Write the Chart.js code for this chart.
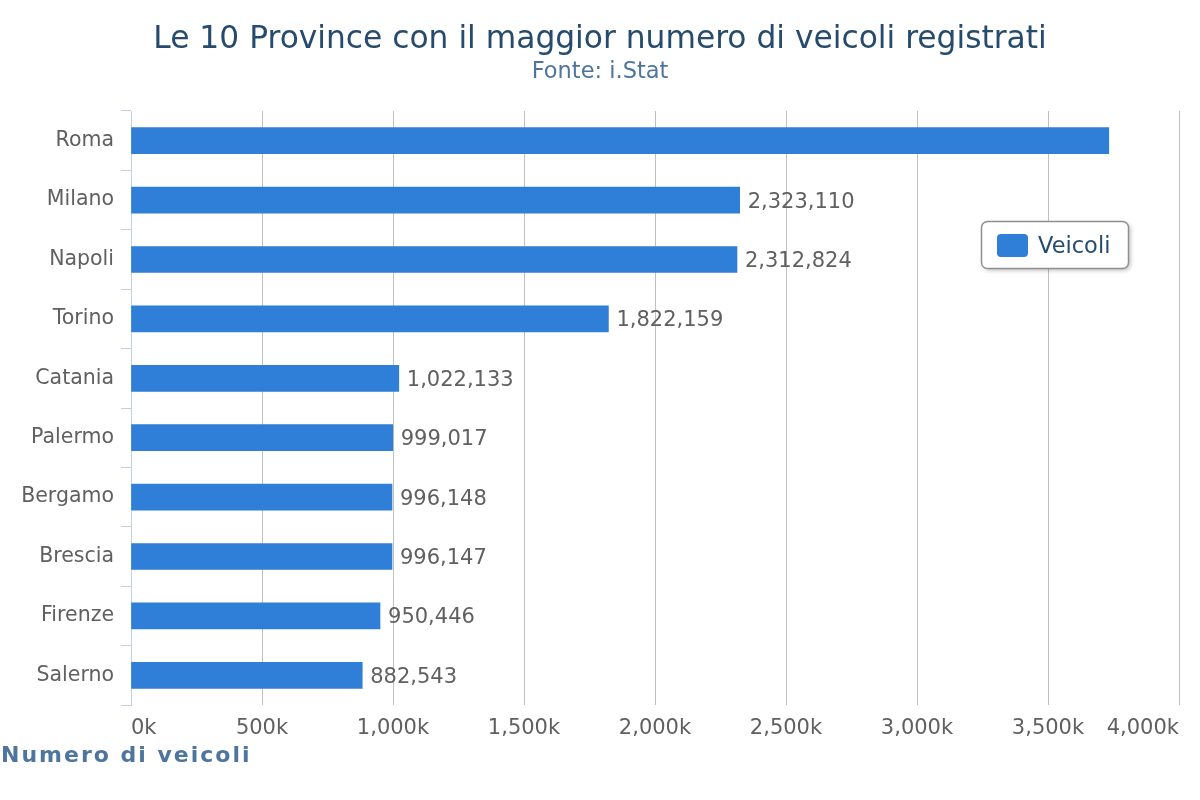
<!DOCTYPE html>
<html>
<head>
<meta charset="utf-8">
<script src="https://cdn.jsdelivr.net/npm/chart.js@4"></script>
<style>
  html, body { margin: 0; padding: 0; background: #fff; }
  #wrap { width: 1200px; height: 800px; }
</style>
</head>
<body>
<div id="wrap"><canvas id="provinceChart" width="1200" height="800"></canvas></div>
<script>
const provinces = ["Roma", "Milano", "Napoli", "Torino", "Catania", "Palermo", "Bergamo", "Brescia", "Firenze", "Salerno"];
const vehicles = [3732000, 2323110, 2312824, 1822159, 1022133, 999017, 996148, 996147, 950446, 882543];
const xTicks = [0, 500000, 1000000, 1500000, 2000000, 2500000, 3000000, 3500000, 4000000];

const titleText = "Le 10 Province con il maggior numero di veicoli registrati";
const subtitleText = "Fonte: i.Stat";
const axisTitle = "Numero di veicoli";
const font = "'DejaVu Sans', sans-serif";

// titles, axis title, value labels and the floating legend
const decorations = {
  id: "decorations",
  afterDatasetsDraw(chart) {
    const ctx = chart.ctx;
    const area = chart.chartArea;
    ctx.save();

    ctx.textAlign = "center";
    ctx.textBaseline = "middle";
    ctx.fillStyle = "#274b6d";
    ctx.font = "31.3px " + font;
    ctx.fillText(titleText, 600, 40);
    ctx.fillStyle = "#4d759e";
    ctx.font = "22.5px " + font;
    ctx.fillText(subtitleText, 600, 72);

    ctx.textAlign = "left";
    ctx.font = "bold 22px " + font;
    ctx.letterSpacing = "2px";
    ctx.fillText(axisTitle, 1, 756);
    ctx.letterSpacing = "0px";

    // value labels
    const meta = chart.getDatasetMeta(0);
    ctx.font = "21px " + font;
    ctx.fillStyle = "#606060";
    meta.data.forEach((bar, i) => {
      const txt = vehicles[i].toLocaleString("en-US");
      const x = bar.x + 8;
      if (x + ctx.measureText(txt).width > area.right) return;
      ctx.fillText(txt, x, bar.y + 2);
    });

    // legend
    const ds = chart.data.datasets[0];
    ctx.shadowColor = "rgba(0,0,0,0.25)";
    ctx.shadowOffsetX = 2;
    ctx.shadowOffsetY = 2;
    ctx.shadowBlur = 4;
    ctx.fillStyle = "#fff";
    ctx.beginPath();
    ctx.roundRect(981.5, 221.5, 147, 47, 6);
    ctx.fill();
    ctx.shadowColor = "transparent";
    ctx.strokeStyle = "#909090";
    ctx.lineWidth = 1.5;
    ctx.stroke();
    ctx.fillStyle = ds.backgroundColor;
    ctx.beginPath();
    ctx.roundRect(997, 234, 31, 23, 4);
    ctx.fill();
    ctx.fillStyle = "#274b6d";
    ctx.font = "22.5px " + font;
    ctx.fillText(ds.label, 1038, 247);

    ctx.restore();
  }
};

new Chart(document.getElementById("provinceChart"), {
  type: "bar",
  data: {
    labels: provinces,
    datasets: [{
      label: "Veicoli",
      data: vehicles,
      backgroundColor: "#2f7ed8",
      barThickness: 26
    }]
  },
  options: {
    indexAxis: "y",
    responsive: false,
    animation: false,
    layout: { padding: { top: 111, right: 21, left: 0, bottom: 0 } },
    plugins: {
      legend: { display: false },
      tooltip: { enabled: false }
    },
    scales: {
      x: {
        min: 0,
        max: 4000000,
        afterBuildTicks(scale) {
          scale.ticks = xTicks.map(v => ({ value: v }));
        },
        afterFit(scale) { scale.height = 95; },
        grid: { color: "#c0c0c0", lineWidth: 1, drawTicks: false },
        border: { display: false },
        ticks: {
          align: "inner",
          padding: 11,
          color: "#606060",
          font: { family: font, size: 21 },
          callback: v => (v / 1000).toLocaleString("en-US") + "k"
        }
      },
      y: {
        afterFit(scale) { scale.width = 131; },
        grid: { drawOnChartArea: false, drawTicks: true, tickLength: 10, color: "#c0d0e0" },
        border: { color: "#c0d0e0", width: 1 },
        ticks: {
          padding: 7,
          color: "#606060",
          font: { family: font, size: 20.5 }
        }
      }
    }
  },
  plugins: [decorations]
});
</script>
</body>
</html>
